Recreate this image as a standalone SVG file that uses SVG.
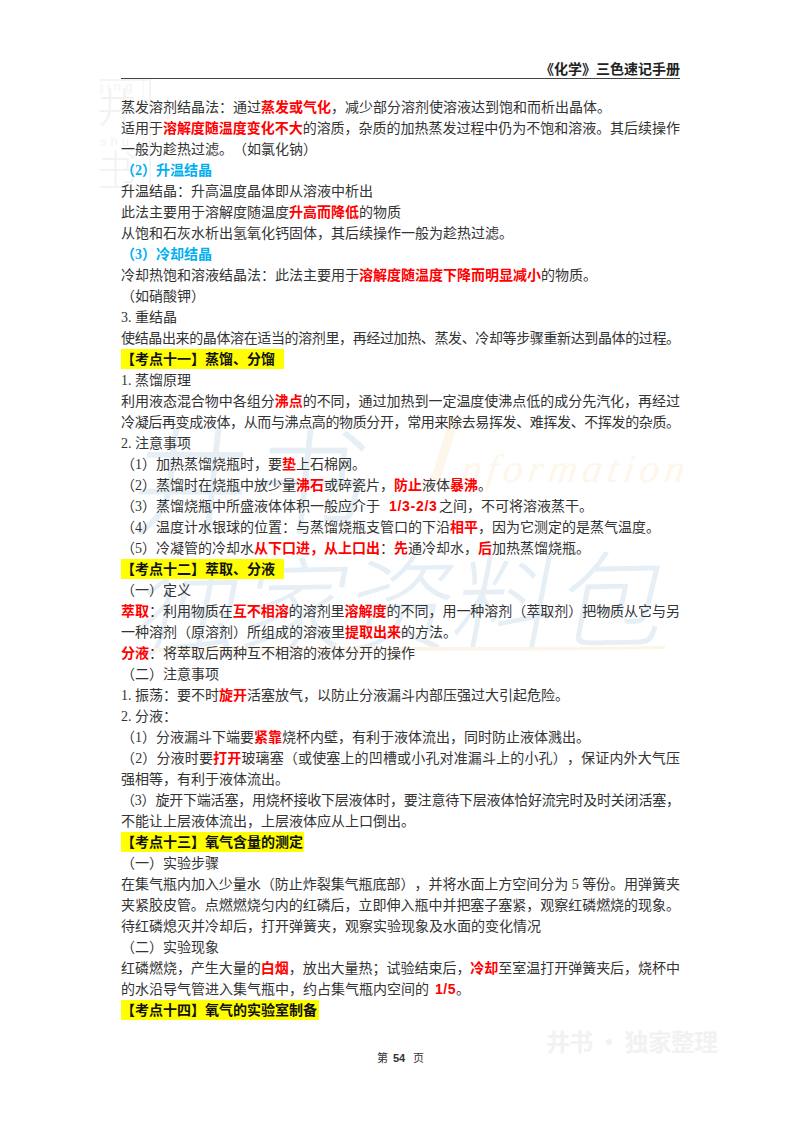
<svg xmlns="http://www.w3.org/2000/svg" width="800" height="1132" viewBox="0 0 800 1132">
<style>
text{font-family:"Liberation Serif","Noto Sans CJK SC",sans-serif;font-size:14px;fill:#333;text-spacing-trim:space-all}
.r{fill:#f00;font-weight:700}
.h{fill:#00b0f0;font-weight:700}
.k{fill:#111;font-weight:700}
.n{font-family:"Liberation Sans",sans-serif;fill:#f00;font-weight:700}
.wm{font-family:"Noto Sans CJK SC",sans-serif;fill:#e6eff5;font-weight:300;font-size:105px}
.wg{font-family:"Noto Sans CJK SC",sans-serif;fill:#f2f2f2;font-weight:300;font-size:40px}
.wl{font-family:"Liberation Sans",sans-serif;fill:#f3f3f3;font-size:13px;letter-spacing:4px}
.y{fill:#ff0}
</style>
<rect width="800" height="1132" fill="#fff"/>
<g id="watermarks">
<path d="M100 80H150V187H100" fill="none" stroke="#f4f4f4" stroke-width="2"/>
<path d="M143 80V187" fill="none" stroke="#f4f4f4" stroke-width="1"/>
<text class="wl" x="100" y="91">jing</text>
<text class="wg" x="97" y="122">井</text>
<text class="wl" x="100" y="146">shu</text>
<text class="wg" x="97" y="184">书</text>
<text class="wm" transform="translate(128 525) skewX(-6)" x="0" y="0" style="font-size:118px">井书</text>
<text class="wm" transform="translate(130 648) rotate(-1) skewX(-12)" x="0" y="0" textLength="530" lengthAdjust="spacingAndGlyphs">独家资料包</text>
<text transform="translate(422 482) skewX(-8)" x="0" y="0" style="font-family:'Liberation Serif',serif;font-style:italic;font-size:40px;fill:#fef6ea;letter-spacing:5px"><tspan style="font-size:100px">I</tspan>nformation</text>
<path d="M150 648C300 646 500 648 665 646L665 649C500 652 300 650 150 652Z" fill="#fdf4e8"/>
<text x="546" y="1051" style="font-family:'Noto Sans CJK SC',sans-serif;font-size:24px;font-weight:700;fill:#f2f2f2" textLength="172">井书 · 独家整理</text>
</g>
<g id="header">
<text x="680" y="74" text-anchor="end" style="font-weight:700;fill:#222">《化学》三色速记手册</text>
<path d="M121 78.5H680" stroke="#444" stroke-width="1"/>
</g>
<g id="highlights">
<rect class="y" x="121" y="349" width="163" height="20"/>
<rect class="y" x="121" y="559" width="163" height="20"/>
<rect class="y" x="121" y="832" width="183" height="20"/>
<rect class="y" x="121" y="1000" width="198" height="20"/>
</g>
<g id="body">
<text x="121" y="112">蒸发溶剂结晶法：通过<tspan class="r">蒸发或气化</tspan>，减少部分溶剂使溶液达到饱和而析出晶体。</text>
<text x="121" y="133" textLength="559">适用于<tspan class="r">溶解度随温度变化不大</tspan>的溶质，杂质的加热蒸发过程中仍为不饱和溶液。其后续操作</text>
<text x="121" y="154">一般为趁热过滤。（如氯化钠）</text>
<text x="121" y="175" class="h">（2）升温结晶</text>
<text x="121" y="196">升温结晶：升高温度晶体即从溶液中析出</text>
<text x="121" y="217">此法主要用于溶解度随温度<tspan class="r">升高而降低</tspan>的物质</text>
<text x="121" y="238">从饱和石灰水析出氢氧化钙固体，其后续操作一般为趁热过滤。</text>
<text x="121" y="259" class="h">（3）冷却结晶</text>
<text x="121" y="280">冷却热饱和溶液结晶法：此法主要用于<tspan class="r">溶解度随温度下降而明显减小</tspan>的物质。</text>
<text x="121" y="301">（如硝酸钾）</text>
<text x="121" y="322">3.<tspan x="135">重结晶</tspan></text>
<text x="121" y="343" textLength="559">使结晶出来的晶体溶在适当的溶剂里，再经过加热、蒸发、冷却等步骤重新达到晶体的过程。</text>
<text x="121" y="364" class="k">【考点十一】蒸馏、分馏</text>
<text x="121" y="385">1.<tspan x="135">蒸馏原理</tspan></text>
<text x="121" y="406" textLength="559">利用液态混合物中各组分<tspan class="r">沸点</tspan>的不同，通过加热到一定温度使沸点低的成分先汽化，再经过</text>
<text x="121" y="427" textLength="559">冷凝后再变成液体，从而与沸点高的物质分开，常用来除去易挥发、难挥发、不挥发的杂质。</text>
<text x="121" y="448">2.<tspan x="135">注意事项</tspan></text>
<text x="121" y="469">（1）加热蒸馏烧瓶时，要<tspan class="r">垫</tspan>上石棉网。</text>
<text x="121" y="490">（2）蒸馏时在烧瓶中放少量<tspan class="r">沸石</tspan>或碎瓷片，<tspan class="r">防止</tspan>液体<tspan class="r">暴沸</tspan>。</text>
<text x="121" y="511">（3）蒸馏烧瓶中所盛液体体积一般应介于<tspan class="n" x="389" style="letter-spacing:.7px">1/3-2/3</tspan><tspan x="439">之间，不可将溶液蒸干。</tspan></text>
<text x="121" y="532">（4）温度计水银球的位置：与蒸馏烧瓶支管口的下沿<tspan class="r">相平</tspan>，因为它测定的是蒸气温度。</text>
<text x="121" y="553">（5）冷凝管的冷却水<tspan class="r">从下口进，从上口出</tspan>：<tspan class="r">先</tspan>通冷却水，<tspan class="r">后</tspan>加热蒸馏烧瓶。</text>
<text x="121" y="574" class="k">【考点十二】萃取、分液</text>
<text x="121" y="595">（一）定义</text>
<text x="121" y="616" textLength="559"><tspan class="r">萃取</tspan>：利用物质在<tspan class="r">互不相溶</tspan>的溶剂里<tspan class="r">溶解度</tspan>的不同，用一种溶剂（萃取剂）把物质从它与另</text>
<text x="121" y="637">一种溶剂（原溶剂）所组成的溶液里<tspan class="r">提取出来</tspan>的方法。</text>
<text x="121" y="658"><tspan class="r">分液</tspan>：将萃取后两种互不相溶的液体分开的操作</text>
<text x="121" y="679">（二）注意事项</text>
<text x="121" y="700">1.<tspan x="135">振荡：要不时</tspan><tspan class="r">旋开</tspan>活塞放气，以防止分液漏斗内部压强过大引起危险。</text>
<text x="121" y="721">2.<tspan x="135">分液：</tspan></text>
<text x="121" y="742">（1）分液漏斗下端要<tspan class="r">紧靠</tspan>烧杯内壁，有利于液体流出，同时防止液体溅出。</text>
<text x="121" y="763" textLength="559">（2）分液时要<tspan class="r">打开</tspan>玻璃塞（或使塞上的凹槽或小孔对准漏斗上的小孔），保证内外大气压</text>
<text x="121" y="784">强相等，有利于液体流出。</text>
<text x="121" y="805" textLength="559">（3）旋开下端活塞，用烧杯接收下层液体时，要注意待下层液体恰好流完时及时关闭活塞，</text>
<text x="121" y="826">不能让上层液体流出，上层液体应从上口倒出。</text>
<text x="121" y="847" class="k">【考点十三】氧气含量的测定</text>
<text x="121" y="868">（一）实验步骤</text>
<text x="121" y="889" textLength="559">在集气瓶内加入少量水（防止炸裂集气瓶底部），并将水面上方空间分为 5 等份。用弹簧夹</text>
<text x="121" y="910" textLength="559">夹紧胶皮管。点燃燃烧匀内的红磷后，立即伸入瓶中并把塞子塞紧，观察红磷燃烧的现象。</text>
<text x="121" y="931">待红磷熄灭并冷却后，打开弹簧夹，观察实验现象及水面的变化情况</text>
<text x="121" y="952">（二）实验现象</text>
<text x="121" y="973" textLength="559">红磷燃烧，产生大量的<tspan class="r">白烟</tspan>，放出大量热；试验结束后，<tspan class="r">冷却</tspan>至室温打开弹簧夹后，烧杯中</text>
<text x="121" y="994">的水沿导气管进入集气瓶中，约占集气瓶内空间的<tspan class="n" x="435" style="letter-spacing:.5px">1/5</tspan><tspan x="456">。</tspan></text>
<text x="121" y="1015" class="k">【考点十四】氧气的实验室制备</text>
</g>
<g id="footer">
<text y="1062" style="font-size:11px"><tspan x="377">第</tspan><tspan x="393" style="font-family:'Liberation Sans',sans-serif;font-weight:700">54</tspan><tspan x="413">页</tspan></text>
</g>
</svg>
